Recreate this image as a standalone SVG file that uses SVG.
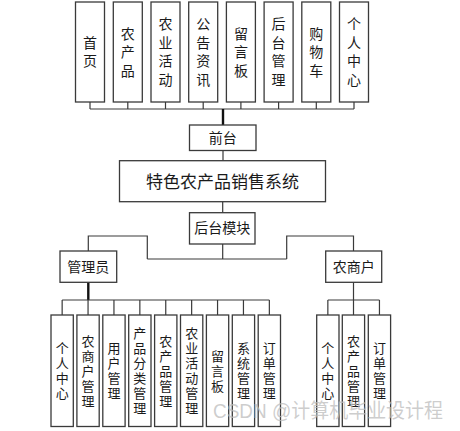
<svg xmlns="http://www.w3.org/2000/svg" width="460" height="431" viewBox="0 0 460 431">
<style>
.box{fill:#fff;stroke:#3a3a3a;stroke-width:1.3}
.ln{fill:none;stroke:#3a3a3a;stroke-width:1.2}
.thick{fill:none;stroke:#111;stroke-width:2.4}
text{font-family:"Noto Sans CJK SC","Liberation Sans",sans-serif;fill:#1a1a1a;text-anchor:middle}
.t14{font-size:14px}
.t17{font-size:17px}
.v14{font-size:14px;writing-mode:vertical-rl;letter-spacing:4.5px}
.v13{font-size:13px;writing-mode:vertical-rl;letter-spacing:2px}
.wm{font-family:"Liberation Sans","Noto Sans CJK SC",sans-serif;font-size:20px;fill:#bdbdbd;fill-opacity:0.75;text-anchor:start}
</style>
<rect width="460" height="431" fill="#fff"/>
<g id="connectors">
<path class="ln" d="M90 102V109M127.8 102V109M165.5 102V109M203.2 102V109M240.9 102V109M278.6 102V109M316.3 102V109M354 102V109M90 109H354"/>
<path class="thick" d="M223 109V125"/>
<path class="ln" d="M223 150.5V160.7M222.7 201.7V212.7M222.7 244V259M147.3 259H286.7M147.3 259V236H88.3V251M286.7 259V236H353.5V251"/>
<path class="thick" d="M88.3 282.3V300"/>
<path class="ln" d="M62.15 300H269.35M62.15 300V315M88.05 300V315M113.95 300V315M139.85 300V315M165.75 300V315M191.65 300V315M217.55 300V315M243.45 300V315M269.35 300V315"/>
<path class="ln" d="M353.5 282.3V315M327.85 300H379.45M327.85 300V315M379.45 300V315"/>
</g>
<g id="n-home"><rect class="box" x="75.5" y="2" width="29" height="100"/><text class="v14" x="90" y="54">首页</text></g>
<g id="n-product"><rect class="box" x="113.3" y="2" width="29" height="100"/><text class="v14" x="127.8" y="54">农产品</text></g>
<g id="n-activity"><rect class="box" x="151" y="2" width="29" height="100"/><text class="v14" x="165.5" y="54">农业活动</text></g>
<g id="n-notice"><rect class="box" x="188.7" y="2" width="29" height="100"/><text class="v14" x="203.2" y="54">公告资讯</text></g>
<g id="n-message"><rect class="box" x="226.4" y="2" width="29" height="100"/><text class="v14" x="240.9" y="54">留言板</text></g>
<g id="n-backend"><rect class="box" x="264.1" y="2" width="29" height="100"/><text class="v14" x="278.6" y="54">后台管理</text></g>
<g id="n-cart"><rect class="box" x="301.8" y="2" width="29" height="100"/><text class="v14" x="316.3" y="54">购物车</text></g>
<g id="n-personal"><rect class="box" x="339.5" y="2" width="29" height="100"/><text class="v14" x="354" y="54">个人中心</text></g>
<g id="n-front"><rect class="box" x="189.5" y="125" width="66.5" height="25.5"/><text class="t14" x="222.7" y="143">前台</text></g>
<g id="n-system"><rect class="box" x="119.5" y="160.7" width="206" height="41"/><text class="t17" x="222.5" y="188">特色农产品销售系统</text></g>
<g id="n-backmodule"><rect class="box" x="189.5" y="212.7" width="65.5" height="31.3"/><text class="t14" x="222.3" y="233">后台模块</text></g>
<g id="n-admin"><rect class="box" x="60" y="251" width="56.7" height="31.3"/><text class="t14" x="88.3" y="271.8">管理员</text></g>
<g id="n-farmer"><rect class="box" x="325.7" y="251" width="56" height="31.3"/><text class="t14" x="353.7" y="271.8">农商户</text></g>
<g id="a-personal"><rect class="box" x="51" y="315" width="22.3" height="111.5"/><text class="v13" x="62.15" y="372">个人中心</text></g>
<g id="a-farmer"><rect class="box" x="76.9" y="315" width="22.3" height="111.5"/><text class="v13" x="88.05" y="372">农商户管理</text></g>
<g id="a-user"><rect class="box" x="102.8" y="315" width="22.3" height="111.5"/><text class="v13" x="113.95" y="372">用户管理</text></g>
<g id="a-category"><rect class="box" x="128.7" y="315" width="22.3" height="111.5"/><text class="v13" x="139.85" y="372">产品分类管理</text></g>
<g id="a-product"><rect class="box" x="154.6" y="315" width="22.3" height="111.5"/><text class="v13" x="165.75" y="372">农产品管理</text></g>
<g id="a-activity"><rect class="box" x="180.5" y="315" width="22.3" height="111.5"/><text class="v13" x="191.65" y="372">农业活动管理</text></g>
<g id="a-message"><rect class="box" x="206.4" y="315" width="22.3" height="111.5"/><text class="v13" x="217.55" y="372">留言板</text></g>
<g id="a-system"><rect class="box" x="232.3" y="315" width="22.3" height="111.5"/><text class="v13" x="243.45" y="372">系统管理</text></g>
<g id="a-order"><rect class="box" x="258.2" y="315" width="22.3" height="111.5"/><text class="v13" x="269.35" y="372">订单管理</text></g>
<g id="f-personal"><rect class="box" x="316.7" y="315" width="22.3" height="111.5"/><text class="v13" x="327.85" y="372">个人中心</text></g>
<g id="f-product"><rect class="box" x="342.3" y="315" width="22.3" height="111.5"/><text class="v13" x="353.45" y="372">农产品管理</text></g>
<g id="f-order"><rect class="box" x="368.3" y="315" width="22.3" height="111.5"/><text class="v13" x="379.45" y="372">订单管理</text></g>
<text class="wm" x="213" y="418" textLength="230" lengthAdjust="spacingAndGlyphs">CSDN @计算机毕业设计程</text>
</svg>
